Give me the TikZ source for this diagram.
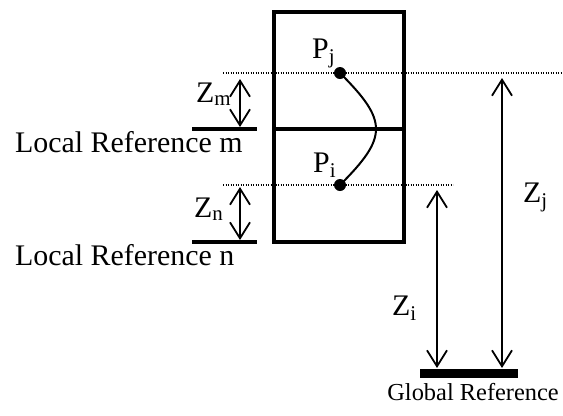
\documentclass[tikz,border=0pt]{standalone}
\usepackage{fontspec}
\setmainfont{Liberation Serif}
\usetikzlibrary{arrows.meta}
\begin{document}
\begin{tikzpicture}[x=1bp,y=-1bp,
  wall/.style={line width=3.8bp},
  refline/.style={line width=3.5bp},
  groundbar/.style={line width=9bp},
  guide/.style={line width=1.3bp, dash pattern=on 1.3bp off 1.2bp},
  dimarrow/.style={line width=1.8bp,
    {Straight Barb[length=16bp,width=20bp,line width=1.8bp]}-{Straight Barb[length=16bp,width=20bp,line width=1.8bp]}},
  lbl/.style={inner sep=0pt, font=\fontsize{30}{36}\selectfont},
  glbl/.style={inner sep=0pt, font=\fontsize{24.5}{30}\selectfont},
  pointdot/.style={circle, fill=black, inner sep=0pt, minimum size=12bp},
  curveline/.style={line width=2bp}
]
\useasboundingbox (0,0) rectangle (563,415);

% box
\draw[wall] (274,12) rectangle (404,242);
\draw[wall] (274,129) -- (404,129);

% guide lines
\coordinate (gu1) at (223,73);
\coordinate (gu2) at (561,73);
\coordinate (gl1) at (223,185);
\coordinate (gl2) at (453,185);
\draw[guide] (gu1) -- (gu2);
\draw[guide] (gl1) -- (gl2);

% points and curve
\node[pointdot] (pj) at (340,73) {};
\node[pointdot] (pi) at (340,185) {};
\draw[curveline] (pj.center) .. controls (388,121) and (388,137) .. (pi.center);
\node[lbl, anchor=base west] (pjl) at (312,58) {P\textsubscript{j}};
\node[lbl, anchor=base west] (pil) at (313,172) {P\textsubscript{i}};

% local references
\coordinate (rm1) at (192,129);
\coordinate (rm2) at (257,129);
\coordinate (rn1) at (192,242);
\coordinate (rn2) at (257,242);
\draw[refline] (rm1) -- (rm2);
\draw[refline] (rn1) -- (rn2);
\node[lbl, anchor=base west] (lrm) at (15,152) {Local Reference m};
\node[lbl, anchor=base west] (lrn) at (15,265) {Local Reference n};

% local dimension arrows
\coordinate (zmt) at (240,79);
\coordinate (zmb) at (240,127);
\coordinate (znt) at (240,187);
\coordinate (znb) at (240,240);
\draw[dimarrow] (zmt) -- (zmb);
\draw[dimarrow] (znt) -- (znb);
\node[lbl, anchor=base west] (zml) at (196,102) {Z\textsubscript{m}};
\node[lbl, anchor=base west] (znl) at (194,217) {Z\textsubscript{n}};

% global reference
\coordinate (g1) at (420,373);
\coordinate (g2) at (518,373);
\draw[groundbar] (g1) -- (g2);
\node[glbl, anchor=base east] (glbl) at (559,400) {Global Reference};

% global dimension arrows
\coordinate (zit) at (437,190);
\coordinate (zib) at (437,368);
\coordinate (zjt) at (502,78);
\coordinate (zjb) at (502,368);
\draw[dimarrow] (zit) -- (zib);
\draw[dimarrow] (zjt) -- (zjb);
\node[lbl, anchor=base west] (zil) at (392,315) {Z\textsubscript{i}};
\node[lbl, anchor=base west] (zjl) at (523,202) {Z\textsubscript{j}};
\end{tikzpicture}
\end{document}
